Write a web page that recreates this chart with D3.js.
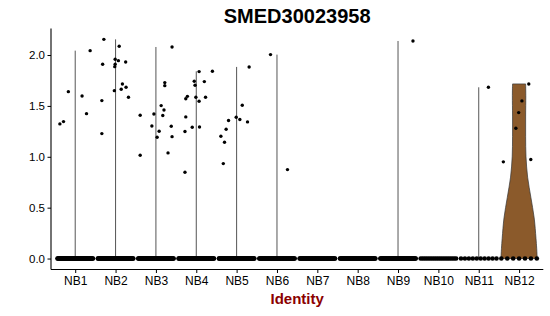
<!DOCTYPE html>
<html><head><meta charset="utf-8">
<script src="https://cdn.jsdelivr.net/npm/d3@7"></script>
<style>body{margin:0;background:#fff}svg{display:block}text{font-family:"Liberation Sans",Arial,sans-serif}</style>
</head><body><svg id="c" width="550" height="316"></svg>
<script>
const title = "SMED30023958";
const xTitle = "Identity";
const categories = ["NB1","NB2","NB3","NB4","NB5","NB6","NB7","NB8","NB9","NB10","NB11","NB12"];
const yTicks = [0, 0.5, 1.0, 1.5, 2.0];
// number of cells with zero expression per group
const zeroCounts = [70, 70, 70, 70, 70, 60, 60, 60, 60, 20, 10, 7];
// non-zero cells: [group, jitter (band units), value]
const nonZero = [
 ["NB1",-0.38,1.323],["NB1",-0.29,1.346],["NB1",-0.17,1.640],["NB1",0.17,1.598],["NB1",0.28,1.424],["NB1",0.37,2.043],
 ["NB2",-0.34,1.228],["NB2",-0.34,1.552],["NB2",-0.32,1.909],["NB2",-0.29,2.154],["NB2",-0.03,1.650],["NB2",-0.02,1.886],
 ["NB2",-0.01,1.909],["NB2",-0.01,1.958],["NB2",0.07,1.945],["NB2",0.09,2.086],["NB2",0.17,1.716],["NB2",0.14,1.663],
 ["NB2",0.25,1.932],["NB2",0.26,1.683],["NB2",0.32,1.585],
 ["NB3",-0.39,1.408],["NB3",-0.39,1.015],["NB3",-0.10,1.303],["NB3",-0.05,1.421],["NB3",0.03,1.192],["NB3",0.08,1.251],
 ["NB3",0.13,1.503],["NB3",0.17,1.405],["NB3",0.20,1.460],["NB3",0.22,1.729],["NB3",0.22,1.699],["NB3",0.30,1.038],
 ["NB3",0.38,1.300],["NB3",0.40,1.198],["NB3",0.40,2.079],
 ["NB4",-0.28,1.248],["NB4",-0.26,1.392],["NB4",-0.26,1.571],["NB4",-0.22,1.594],["NB4",-0.10,1.290],["NB4",-0.05,1.742],
 ["NB4",-0.03,1.703],["NB4",-0.01,1.585],["NB4",0.07,1.546],["NB4",0.07,1.837],["NB4",0.08,1.293],["NB4",0.20,1.739],
 ["NB4",0.23,1.585],["NB4",0.40,1.840],["NB4",-0.28,0.848],
 ["NB5",-0.39,1.202],["NB5",-0.30,1.143],["NB5",-0.26,1.270],["NB5",-0.20,1.356],["NB5",-0.01,1.388],["NB5",0.08,1.366],
 ["NB5",0.14,1.506],["NB5",0.27,1.343],["NB5",0.31,1.883],["NB5",-0.33,0.933],
 ["NB6",-0.16,2.004],["NB6",0.26,0.874],
 ["NB9",0.37,2.138],
 ["NB11",0.24,1.683],
 ["NB12",0.24,1.716],["NB12",0.07,1.549],["NB12",-0.01,1.434],["NB12",-0.08,1.280],["NB12",-0.39,0.950],["NB12",0.29,0.973]
];
// NB12 violin density profile: value, relative half-width
const nb12Values = [0, 0.1, 0.2, 0.4, 0.6, 0.8, 1.0, 1.2, 1.4, 1.6, 1.716];
const nb12Widths = [1.0, 0.97, 0.93, 0.83, 0.65, 0.47, 0.38, 0.36, 0.36, 0.37, 0.36];
const violinFill = "#8B5A2B";

const svg = d3.select("#c");
const L = 51, R = 543.3, T = 28.4, B = 269.5;
const x = d3.scalePoint().domain(categories).range([L, R]).padding(0.6);
const step = x.step();
const allVals = nonZero.map(d => d[2]).concat([0]);
const vmin = d3.min(allVals), vmax = d3.max(allVals);
const pad = (vmax - vmin) * 0.05;
const y = d3.scaleLinear().domain([vmin - pad, vmax + pad]).range([B, T]);

// violins (thin lines for groups with almost only zeros)
const maxBy = d3.rollup(nonZero, v => d3.max(v, d => d[2]), d => d[0]);
const g = svg.append("g");
categories.forEach(c => {
  if (c === "NB12") return;
  const m = maxBy.get(c);
  if (!m) return;
  g.append("line").attr("x1", x(c)).attr("x2", x(c))
    .attr("y1", y(0)).attr("y2", y(m))
    .attr("stroke", "#555").attr("stroke-width", 1);
});
const prof = nb12Values.map((v, i) => ({v, w: nb12Widths[i]}));
const half = step * 0.45;
const area = d3.area().curve(d3.curveCatmullRom)
  .y(d => y(d.v)).x0(d => x("NB12") - d.w * half).x1(d => x("NB12") + d.w * half);
g.append("path").datum(prof).attr("d", area)
  .attr("fill", violinFill).attr("stroke", "#333").attr("stroke-width", 0.7);

// zero points
const zeros = [];
categories.forEach((c, i) => {
  const n = zeroCounts[i];
  for (let k = 0; k < n; k++) zeros.push({c, j: n > 1 ? -0.44 + 0.88 * k / (n - 1) : 0});
});
svg.append("g").selectAll("circle").data(zeros).join("circle")
  .attr("cx", d => x(d.c) + d.j * step).attr("cy", y(0)).attr("r", 2.3).attr("fill", "#000");
svg.append("g").selectAll("circle").data(nonZero).join("circle")
  .attr("cx", d => x(d[0]) + d[1] * step).attr("cy", d => y(d[2])).attr("r", 1.7).attr("fill", "#000");

// axes
const ya = svg.append("g").attr("transform", `translate(${L},0)`)
  .call(d3.axisLeft(y).tickValues(yTicks).tickFormat(d3.format(".1f")).tickSize(3.5).tickSizeOuter(0));
const xa = svg.append("g").attr("transform", `translate(0,${B})`)
  .call(d3.axisBottom(x).tickSize(3.5).tickSizeOuter(0));
[ya, xa].forEach(a => {
  a.select(".domain").attr("d", null);
  a.selectAll("line").attr("stroke", "#000");
  a.selectAll("text").attr("fill", "#000");
});
ya.selectAll("text").attr("x", -6).style("font-size", "11.5px");
xa.selectAll("text").attr("y", 6.5).style("font-size", "12px");
svg.append("line").attr("x1", L).attr("x2", L).attr("y1", T).attr("y2", B).attr("stroke", "#000").attr("stroke-width", 1.1);
svg.append("line").attr("x1", L).attr("x2", R).attr("y1", B).attr("y2", B).attr("stroke", "#000").attr("stroke-width", 1.1);

svg.append("text").attr("x", (L + R) / 2).attr("y", 23).attr("text-anchor", "middle")
  .style("font-size", "20px").style("font-weight", "bold").text(title);
svg.append("text").attr("x", (L + R) / 2).attr("y", 304).attr("text-anchor", "middle")
  .style("font-size", "15px").style("font-weight", "bold").attr("fill", "#8B0000").text(xTitle);
</script></body></html>
